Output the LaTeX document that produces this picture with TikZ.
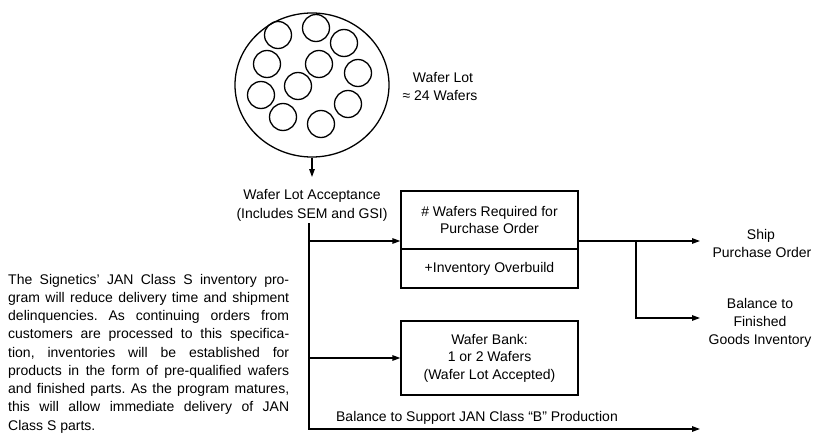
\documentclass[tikz,border=0pt]{standalone}
\usepackage{fontspec}
\setmainfont{Liberation Sans}
\usetikzlibrary{arrows.meta,shapes.geometric}
\frenchspacing
\begin{document}
\begin{tikzpicture}[x=1pt,y=-1pt,
  ln/.style={line width=1.3pt},
  arr/.style={ln,-{Triangle[length=8pt,width=5.5pt]}},
  txt/.style={font=\fontsize{14}{17.5}\selectfont, inner sep=0pt},
  boxstyle/.style={draw, ln, minimum width=177pt, inner sep=0pt, align=center, font=\fontsize{14}{17.5}\selectfont},
  waferc/.style={draw, ln, circle, minimum size=27pt, inner sep=0pt},
]
\useasboundingbox (0,0) rectangle (817,436);

% wafer lot
\node[draw, ln, ellipse, minimum width=154pt, minimum height=144pt, inner sep=0pt] (lot) at (312,85) {};
\foreach \n/\px/\py in {1/278/35, 2/316/28, 3/344/43, 4/267/64, 5/319/64, 6/358/73, 7/298/86, 8/261/95, 9/348/104, 10/283/117, 11/321/124}
  \node[waferc] (w\n) at (\px,\py) {};

\node[txt, anchor=base] (lotlbl1) at (443,82) {Wafer Lot};
\node[txt, anchor=base] (lotlbl2) at (440,100) {≈ 24 Wafers};

\node[txt, anchor=base] (acc1) at (312,199) {Wafer Lot Acceptance};
\node[txt, anchor=base] (acc2) at (312,218) {(Includes SEM and GSI)};

% boxes
\node[boxstyle, minimum height=58pt] (box1) at (489.5,220) {\# Wafers Required for\\Purchase Order};
\node[boxstyle, minimum height=39pt] (box1b) at (489.5,268.5) {+Inventory Overbuild};
\node[boxstyle, minimum height=74pt] (box2) at (489.5,358) {Wafer Bank:\\1 or 2 Wafers\\(Wafer Lot Accepted)};

\node[txt, anchor=base] (bal) at (477,421) {Balance to Support JAN Class “B” Production};

\node[txt, anchor=base] (ship1) at (761,239) {Ship};
\node[txt, anchor=base] (ship2) at (762,257) {Purchase Order};
\node[txt, anchor=base] (fin1) at (760,308) {Balance to};
\node[txt, anchor=base] (fin2) at (760,326) {Finished};
\node[txt, anchor=base] (fin3) at (760,344) {Goods Inventory};

% paragraph
\node[inner sep=0pt, anchor=base west] (para) at (8,284) {\parbox[t]{281pt}{\fontsize{14}{18.25}\selectfont\frenchspacing
\makebox[281pt][s]{The Signetics' JAN Class S inventory pro-}\\
\makebox[281pt][s]{gram will reduce delivery time and shipment}\\
\makebox[281pt][s]{delinquencies. As continuing orders from}\\
\makebox[281pt][s]{customers are processed to this specifica-}\\
\makebox[281pt][s]{tion, inventories will be established for}\\
\makebox[281pt][s]{products in the form of pre-qualified wafers}\\
\makebox[281pt][s]{and finished parts. As the program matures,}\\
\makebox[281pt][s]{this will allow immediate delivery of JAN}\\
Class S parts.}};

% connectors
\coordinate (acctop) at (312,177);
\coordinate (trunktop) at (309,223);
\coordinate (j1) at (309,241);
\coordinate (j2) at (309,358);
\coordinate (trunkbot) at (309,429);
\coordinate (balend) at (700,429);
\coordinate (shipend) at (700,241);
\coordinate (br) at (636,241);
\coordinate (finend) at (700,318);

\draw[arr] (lot.south) -- (acctop);
\draw[arr] (trunktop) -- (trunkbot) -- (balend);
\draw[arr] (j1) -- (j1 -| box1.west);
\draw[arr] (j2) -- (box2.west);
\draw[arr] (j1 -| box1.east) -- (shipend);
\draw[arr] (br) -- (br |- finend) -- (finend);
\end{tikzpicture}
\end{document}
